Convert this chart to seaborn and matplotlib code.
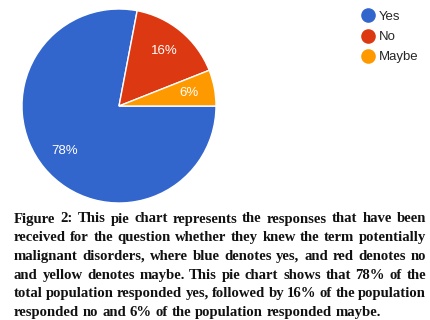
import matplotlib
matplotlib.use("Agg")
import matplotlib.pyplot as plt
from matplotlib.lines import Line2D
import seaborn as sns

# data
labels = ["Yes", "No", "Maybe"]
values = [78, 16, 6]
colors = ["#3366CC", "#DC3912", "#FF9900"]

caption_lines = [
    "Figure 2: This pie chart represents the responses that have been",
    "received for the question whether they knew the term potentially",
    "malignant disorders, where blue denotes yes, and red denotes no",
    "and yellow denotes maybe. This pie chart shows that 78% of the",
    "total population responded yes, followed by 16% of the population",
    "responded no and 6% of the population responded maybe.",
]

sns.set_style("white")
plt.rcParams["font.family"] = ["Liberation Sans", "DejaVu Sans"]

W, H = 431, 320
fig = plt.figure(figsize=(W / 100, H / 100), dpi=100)

# pie axes: centre ~ (119,106) px, radius ~97 px
cx, cy, r = 119, 106, 97
ax = fig.add_axes([(cx - r) / W, (H - cy - r) / H, 2 * r / W, 2 * r / H])
wedges, _, autotexts = ax.pie(
    values, colors=colors, startangle=0, counterclock=False,
    autopct="%d%%", pctdistance=0.73,
    wedgeprops=dict(edgecolor="white", linewidth=1),
    textprops=dict(color="white", fontsize=9.5),
)
ax.set_xlim(-1, 1)
ax.set_ylim(-1, 1)
ax.set_aspect("equal")
ax.axis("off")

handles = [Line2D([], [], marker="o", linestyle="", markersize=9.5,
                  markerfacecolor=c, markeredgecolor=c) for c in colors]
fig.legend(handles, labels, loc="upper left", bbox_to_anchor=(351 / W, 1 + 1 / H),
           frameon=False, handlelength=0.8, handletextpad=0.4,
           labelspacing=0.6, fontsize=9.5)

# caption, justified by placing words individually
cap_font = dict(family="Liberation Serif", weight="bold", fontsize=10.6, color="#111111")
x0, x1 = 14, 426
y_first = 219
dy = 18.7
fig.canvas.draw()
renderer = fig.canvas.get_renderer()
for i, line in enumerate(caption_lines):
    words = line.split(" ")
    y = 1 - (y_first + i * dy) / H
    texts = [fig.text(0, y, w, va="center", ha="left", **cap_font) for w in words]
    widths = [t.get_window_extent(renderer).width for t in texts]
    if i < len(caption_lines) - 1:
        gap = (x1 - x0 - sum(widths)) / (len(words) - 1)
    else:
        full = fig.text(0, y, line, va="center", ha="left", **cap_font)
        fw = full.get_window_extent(renderer).width
        full.remove()
        gap = (fw - sum(widths)) / (len(words) - 1)
    xpos = x0
    for t, w in zip(texts, widths):
        t.set_x(xpos / W)
        xpos += w + gap

fig.savefig("out.png", dpi=100)
